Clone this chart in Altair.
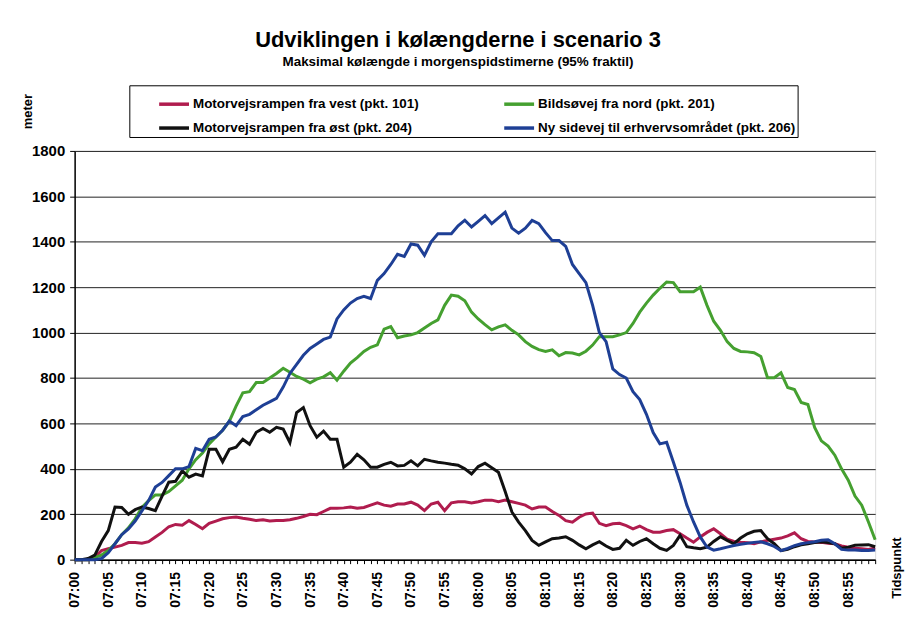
import json
import altair as alt
import pandas as pd

# minute-by-minute categories 07:00 .. 08:59
times = [f"{7 + m // 60:02d}:{m % 60:02d}" for m in range(120)]
x_tick_labels = ["07:00", "07:05", "07:10", "07:15", "07:20", "07:25", "07:30", "07:35",
                 "07:40", "07:45", "07:50", "07:55", "08:00", "08:05", "08:10", "08:15",
                 "08:20", "08:25", "08:30", "08:35", "08:40", "08:45", "08:50", "08:55"]
y_ticks = [0, 200, 400, 600, 800, 1000, 1200, 1400, 1600, 1800]

series_names = ["Motorvejsrampen fra vest (pkt. 101)",
                "Bildsøvej fra nord (pkt. 201)",
                "Motorvejsrampen fra øst (pkt. 204)",
                "Ny sidevej til erhvervsområdet (pkt. 206)"]
series_colors = ["#b01c4e", "#45a030", "#111111", "#1e3f95"]
# legend is filled column by column: vest, øst | nord, sidevej
legend_order = [series_names[0], series_names[2], series_names[1], series_names[3]]
legend_colors = [series_colors[0], series_colors[2], series_colors[1], series_colors[3]]

vest_101 = [0, 0, 0, 10, 40, 48, 55, 63, 75, 75, 72, 79, 100, 120, 145, 155, 152, 172, 155, 136,
            160, 170, 180, 185, 188, 182, 178, 172, 176, 170, 172, 172, 176, 182, 190, 200, 198, 212, 226, 226,
            228, 232, 226, 230, 240, 250, 240, 235, 245, 245, 253, 240, 216, 245, 253, 216, 250, 255, 255, 250,
            255, 262, 262, 255, 262, 255, 248, 240, 223, 232, 232, 212, 195, 172, 165, 187, 201, 205, 160, 150,
            158, 160, 150, 136, 148, 132, 121, 121, 128, 132, 114, 95, 77, 100, 120, 136, 114, 90, 80, 77,
            75, 70, 78, 85, 90, 95, 105, 118, 92, 80, 78, 76, 72, 70, 60, 55, 50, 48, 45, 52]

nord_201 = [0, 0, 0, 10, 20, 40, 70, 110, 140, 180, 230, 260, 285, 285, 300, 325, 350, 400, 440, 470,
            510, 540, 570, 610, 676, 735, 740, 780, 780, 800, 820, 843, 825, 807, 795, 779, 795, 805, 823, 790,
            830, 866, 890, 917, 935, 946, 1015, 1026, 977, 985, 990, 1000, 1020, 1040, 1056, 1120, 1165, 1160, 1140, 1090,
            1060, 1035, 1012, 1025, 1034, 1010, 990, 960, 939, 925, 917, 924, 898, 912, 910, 902, 918, 945, 982, 982,
            982, 990, 1000, 1040, 1090, 1130, 1165, 1195, 1223, 1220, 1180, 1180, 1180, 1200, 1120, 1050, 1010, 960, 930, 917,
            915, 911, 895, 801, 801, 823, 758, 749, 692, 683, 582, 523, 500, 460, 400, 350, 280, 240, 166, 88]

oest_204 = [0, 0, 5, 20, 80, 128, 232, 230, 200, 220, 232, 225, 216, 280, 341, 345, 391, 363, 377, 369,
            486, 486, 431, 486, 495, 530, 508, 561, 578, 561, 583, 575, 516, 648, 670, 590, 539, 566, 530, 530,
            407, 429, 464, 440, 407, 407, 420, 429, 413, 415, 435, 413, 442, 435, 429, 425, 420, 416, 400, 377,
            410, 425, 405, 385, 300, 210, 165, 128, 85, 63, 78, 92, 95, 101, 85, 65, 48, 65, 79, 60,
            45, 50, 85, 63, 80, 92, 70, 50, 41, 63, 107, 57, 52, 48, 55, 80, 101, 85, 70, 95,
            114, 125, 128, 92, 70, 40, 45, 57, 65, 70, 75, 79, 75, 70, 50, 55, 63, 65, 66, 57]

sidevej_206 = [0, 0, 0, 0, 5, 30, 70, 110, 135, 170, 215, 260, 320, 340, 370, 400, 400, 410, 490, 480,
               530, 540, 570, 610, 590, 630, 640, 660, 680, 695, 710, 760, 820, 860, 900, 930, 950, 970, 980, 1060,
               1100, 1130, 1150, 1160, 1150, 1230, 1260, 1300, 1345, 1335, 1390, 1385, 1340, 1400, 1435, 1435, 1435, 1470, 1495, 1465,
               1490, 1515, 1480, 1505, 1530, 1460, 1438, 1460, 1494, 1480, 1440, 1405, 1405, 1380, 1300, 1260, 1220, 1120, 1000, 960,
               840, 815, 800, 740, 705, 640, 560, 510, 517, 430, 340, 240, 166, 100, 55, 42, 48, 55, 62, 68,
               72, 76, 79, 70, 58, 40, 50, 62, 70, 75, 79, 85, 88, 70, 45, 42, 42, 40, 40, 42]

rows = []
for name, vals in zip(series_names, [vest_101, nord_201, oest_204, sidevej_206]):
    for t, v in zip(times, vals):
        rows.append({"tid": t, "meter": v, "serie": name})
df = pd.DataFrame(rows)

FONT = "Liberation Sans"
label_expr = f"indexof({json.dumps(x_tick_labels)}, datum.value) >= 0 ? datum.value : ''"

chart = alt.Chart(df).mark_line(strokeWidth=3).encode(
    x=alt.X("tid:O", sort=times,
            scale=alt.Scale(type="point", padding=0),
            axis=alt.Axis(title="Tidspunkt", labelAngle=-90, labelAlign="right", labelBaseline="middle",
                          labelExpr=label_expr, labelOverlap=False, labelFontSize=14, labelFontWeight="bold",
                          labelFont=FONT, labelColor="#000", labelPadding=8,
                          tickSize=4, tickColor="#000", domainColor="#000", domainWidth=1.5,
                          titleAngle=-90, titleX=826, titleY=8, titleAlign="center", titleBaseline="middle",
                          titleFontSize=13, titleFont=FONT, titleFontWeight="bold", titleColor="#000")),
    y=alt.Y("meter:Q", scale=alt.Scale(domain=[0, 1800], nice=False),
            axis=alt.Axis(title="meter", values=y_ticks, format="d", labelFontSize=15, labelFontWeight="bold",
                          labelFont=FONT, labelColor="#000", labelPadding=5,
                          tickSize=5, tickColor="#000", domainColor="#000", domainWidth=1.5,
                          grid=True, gridColor="#222", gridWidth=1,
                          titleAngle=-90, titleX=-47, titleY=-40, titleAlign="center", titleBaseline="middle",
                          titleFontSize=13, titleFont=FONT, titleFontWeight="bold", titleColor="#000")),
    color=alt.Color("serie:N", scale=alt.Scale(domain=legend_order, range=legend_colors),
                    legend=alt.Legend(title=None, orient="none", legendX=55, legendY=-66, columns=2,
                                      columnPadding=57, rowPadding=-4, padding=2,
                                      strokeColor="#000",
                                      symbolType="stroke", symbolSize=900, symbolStrokeWidth=3.5,
                                      labelFont=FONT, labelFontSize=13.5, labelFontWeight="bold",
                                      labelColor="#000", labelOffset=2,
                                      labelLimit=400, symbolOffset=26)),
).properties(
    width=805, height=411,
    title=alt.TitleParams(text="Udviklingen i kølængderne i scenario 3",
                          subtitle="Maksimal kølængde i morgenspidstimerne (95% fraktil)",
                          font=FONT, fontSize=22, fontWeight="bold", color="#000",
                          subtitleFont=FONT, subtitleFontSize=13.5, subtitleFontWeight="bold",
                          subtitleColor="#000", subtitlePadding=3,
                          anchor="middle", frame="group", offset=15, dx=-17),
    autosize=alt.AutoSizeParams(type="none"),
    padding={"left": 67, "top": 142, "right": 31, "bottom": 64},
).configure_view(stroke="#777", strokeWidth=1).configure_legend(strokeWidth=1.2).configure(background="white")

chart.save("out.html", embed_options={"renderer": "svg", "actions": False})
